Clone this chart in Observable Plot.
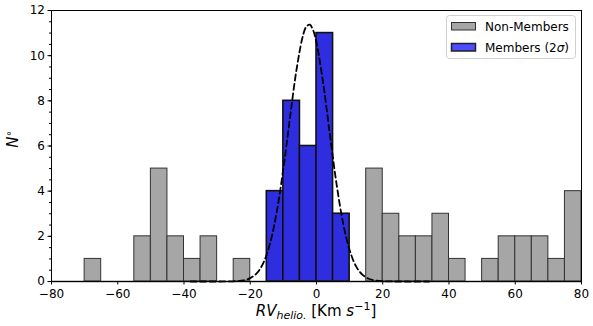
<!DOCTYPE html>
<html>
<head>
<meta charset="utf-8">
<script src="https://cdn.jsdelivr.net/npm/d3@7"></script>
<script src="https://cdn.jsdelivr.net/npm/@observablehq/plot@0.6"></script>
<style>
  html, body { margin: 0; padding: 0; background: #fff; }
  #chart { position: relative; width: 593px; height: 326px; }
</style>
</head>
<body>
<div id="chart"></div>
<script>
// ---- data ----
const binWidth = 5;
const nonMemberBins   = [-70, -55, -50, -45, -40, -35, -25, 15, 20, 25, 30, 35, 40, 50, 55, 60, 65, 70, 75];
const nonMemberCounts = [  1,   2,   5,   2,   1,   2,   1,  5,  3,  2,  2,  3,  1,  1,  2,  2,  2,  1,  4];
const memberBins   = [-15, -10, -5, 0, 5];
const memberCounts = [  4,   8,  6, 11, 3];
// dashed Gaussian curve
const curveX = [-38, -30, -25, -22, -20, -18, -16, -14, -12, -10, -8, -6, -4, -3, -2, -1, 0, 2, 4, 6, 8, 10, 12, 14, 16, 18, 20, 25, 34];
const curveY = [0, 0, 0.01, 0.05, 0.15, 0.37, 0.84, 1.70, 3.08, 5.00, 7.25, 9.41, 10.94, 11.30, 11.37, 11.12, 10.57, 8.80, 6.56, 4.37, 2.61, 1.39, 0.66, 0.28, 0.11, 0.04, 0.01, 0, 0];
const xTicks = [-80, -60, -40, -20, 0, 20, 40, 60, 80];
const yTicks = [0, 2, 4, 6, 8, 10, 12];
const yMinorTicks = d3.range(0, 12.01, 0.5);
const legendLabels = ["Non-Members", "Members (2σ)"];

const nonMembers = nonMemberBins.map((b, i) => ({x1: b, x2: b + binWidth, y: nonMemberCounts[i]}));
const members = memberBins.map((b, i) => ({x1: b, x2: b + binWidth, y: memberCounts[i]}));
const curve = curveX.map((x, i) => ({x, y: curveY[i]}));

const gray = "#a6a6a6";
const blue = "#2e2ee0";

const plot = Plot.plot({
  width: 593,
  height: 326,
  marginLeft: 51,
  marginRight: 12,
  marginTop: 10,
  marginBottom: 45,
  style: {fontFamily: "DejaVu Sans", fontSize: "12px", color: "#000", background: "#fff"},
  x: {domain: [-80, 80]},
  y: {domain: [0, 12]},
  marks: [
    Plot.rectY(nonMembers, {x1: "x1", x2: "x2", y: "y", fill: gray, stroke: "#333", strokeWidth: 1, inset: 0}),
    Plot.rectY(members, {x1: "x1", x2: "x2", y: "y", fill: blue, stroke: "#111", strokeWidth: 1.6, inset: 0}),
    Plot.ruleY([0], {stroke: "#333", strokeWidth: 1.5}),
    Plot.line(curve, {x: "x", y: "y", stroke: "#000", strokeWidth: 1.8, strokeDasharray: "6,3.5", curve: "catmull-rom"}),
    Plot.frame({stroke: "#000", strokeWidth: 1}),
    Plot.axisX({ticks: xTicks, tickSize: 3.5, tickPadding: 4, label: null, fontSize: 12}),
    Plot.axisY({ticks: yMinorTicks, tickSize: 2, tickFormat: () => "", label: null}),
    Plot.axisY({ticks: yTicks, tickSize: 3.5, tickPadding: 3, label: null, fontSize: 12})
  ]
});

document.getElementById("chart").appendChild(plot);

const svg = d3.select(plot);
// axis labels
const xl = svg.append("text")
  .attr("x", 316).attr("y", 316)
  .attr("text-anchor", "middle")
  .attr("font-family", "DejaVu Sans").attr("font-size", 15);
xl.append("tspan").attr("font-style", "italic").text("RV");
xl.append("tspan").attr("font-style", "italic").attr("font-size", 11).attr("dy", 3).text("helio.");
xl.append("tspan").attr("dy", -3).text(" [Km ");
xl.append("tspan").attr("font-style", "italic").text("s");
xl.append("tspan").attr("font-size", 11).attr("dy", -6).text("−1");
xl.append("tspan").attr("dy", 6).text("]");

const yl = svg.append("text")
  .attr("transform", "translate(18,139) rotate(-90)")
  .attr("text-anchor", "middle")
  .attr("font-family", "DejaVu Sans").attr("font-size", 15);
yl.append("tspan").attr("font-style", "italic").text("N");
yl.append("tspan").attr("font-size", 10).attr("dy", -6).text("∘");

// legend
const lg = svg.append("g").attr("font-family", "DejaVu Sans").attr("font-size", 12).attr("text-anchor", "start");
lg.append("rect").attr("x", 446.5).attr("y", 15.5).attr("width", 129).attr("height", 43)
  .attr("rx", 3).attr("fill", "#fff").attr("fill-opacity", 0.8).attr("stroke", "#d0d0d0");
lg.append("rect").attr("x", 451.5).attr("y", 22.5).attr("width", 24).attr("height", 7.5)
  .attr("fill", gray).attr("stroke", "#333");
lg.append("rect").attr("x", 451.5).attr("y", 43.5).attr("width", 24).attr("height", 7.5)
  .attr("fill", "#4d4dff").attr("stroke", "#222").attr("stroke-width", 1.5);
lg.append("text").attr("x", 485).attr("y", 31).attr("text-anchor", "start").text(legendLabels[0]);
const t2 = lg.append("text").attr("x", 485).attr("y", 52).attr("text-anchor", "start");
t2.append("tspan").text("Members (2");
t2.append("tspan").attr("font-style", "italic").text("σ");
t2.append("tspan").text(")");
</script>
</body>
</html>
